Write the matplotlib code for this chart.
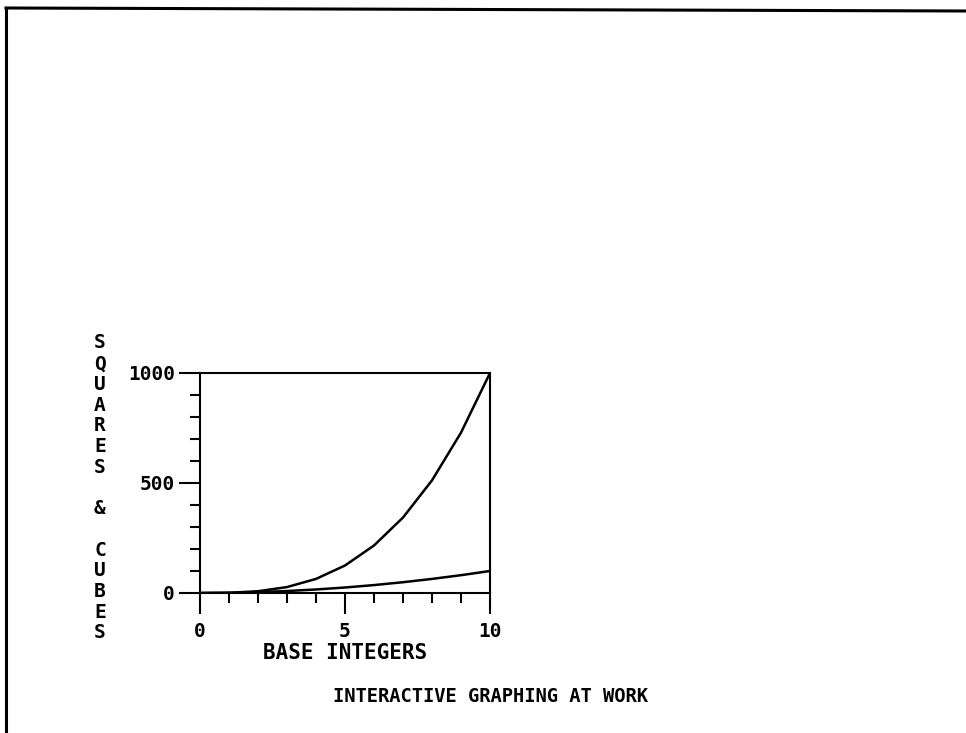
import matplotlib
matplotlib.use("Agg")
import matplotlib.pyplot as plt
from matplotlib.lines import Line2D
import numpy as np

# data: base integers with their squares and cubes
base = [0, 1, 2, 3, 4, 5, 6, 7, 8, 9, 10]
squares = [0, 1, 4, 9, 16, 25, 36, 49, 64, 81, 100]
cubes = [0, 1, 8, 27, 64, 125, 216, 343, 512, 729, 1000]

x_ticks = [0, 5, 10]
y_ticks = [0, 500, 1000]
x_label = "BASE INTEGERS"
y_label = "SQUARES & CUBES"
title = "INTERACTIVE GRAPHING AT WORK"

W, H = 966, 733
font = {"family": "DejaVu Sans Mono", "weight": "bold"}

fig = plt.figure(figsize=(W / 100, H / 100), dpi=100)
fig.patch.set_facecolor("white")

# axes box in pixel terms: x 200..490, y 373..593
ax = fig.add_axes([200 / W, 1 - 593 / H, 290 / W, 220 / H])
ax.plot(base, cubes, color="black", lw=1.8, solid_joinstyle="round")
ax.plot(base, squares, color="black", lw=1.8, solid_joinstyle="round")
ax.set_xlim(0, 10)
ax.set_ylim(0, 1000)

for s in ax.spines.values():
    s.set_linewidth(1.5)

ax.set_xticks(x_ticks)
ax.set_xticks(range(0, 11), minor=True)
ax.set_yticks(y_ticks)
ax.set_yticks(range(0, 1001, 100), minor=True)
ax.set_xticklabels([str(v) for v in x_ticks], fontsize=14, **font)
ax.set_yticklabels([str(v) for v in y_ticks], fontsize=14, **font)
ax.tick_params(axis="both", which="major", direction="out", length=15, width=1.5)
ax.tick_params(axis="both", which="minor", direction="out", length=7.5, width=1.5)
ax.tick_params(axis="x", which="major", pad=6)
ax.tick_params(axis="y", which="major", pad=3)

# x label under the tick labels
fig.text(345 / W, 1 - 653 / H, x_label, ha="center", va="center", fontsize=15, **font)

# y label written as a column of letters
y0, step = 343, 20.7
for i, ch in enumerate(y_label):
    if ch != " ":
        fig.text(100 / W, 1 - (y0 + i * step) / H, ch, ha="center", va="center",
                 fontsize=14, **font)

fig.text(490 / W, 1 - 697 / H, title, ha="center", va="center", fontsize=13.5, **font)

# outer page frame (left and top edges only visible)
fig.add_artist(Line2D([6 / W, 6 / W], [1 - 8 / H, 0], transform=fig.transFigure,
                      color="black", lw=2.2))
fig.add_artist(Line2D([6 / W, 1], [1 - 8 / H, 1 - 11 / H], transform=fig.transFigure,
                      color="black", lw=2.2))

fig.savefig("out.png", dpi=100, facecolor="white")
